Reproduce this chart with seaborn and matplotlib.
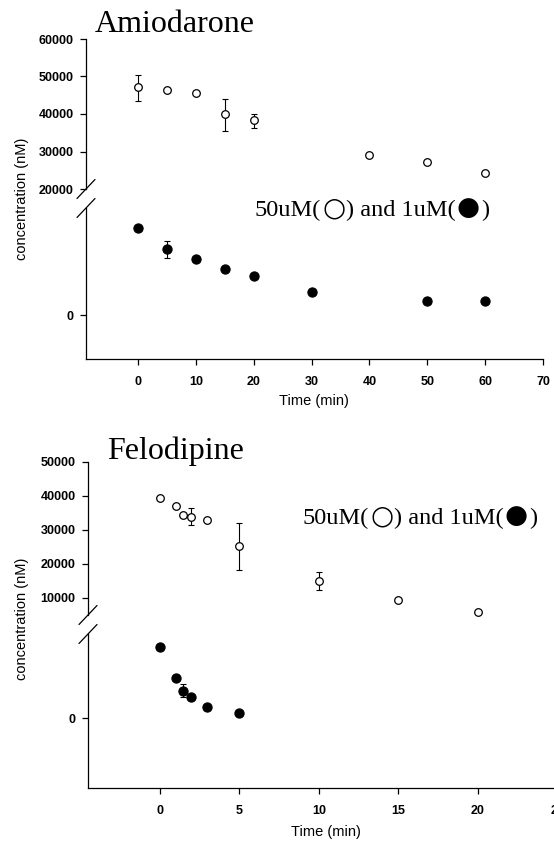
import matplotlib
matplotlib.use("Agg")
import matplotlib.pyplot as plt
from matplotlib.lines import Line2D
import numpy as np
import pandas as pd
import seaborn as sns

# ---------------- data ----------------
# Amiodarone
amio_t_high = [0, 5, 10, 15, 20, 40, 50, 60]
amio_c_high = [47070, 46500, 45470, 40130, 38270, 29200, 27330, 24400]
amio_err_t_high = [0, 15, 20]
amio_err_lo_high = [43600, 35600, 36400]
amio_err_hi_high = [50270, 44130, 39870]

amio_t_low = [0, 5, 10, 15, 20, 30, 50, 60]
amio_c_low = [813, 617, 523, 430, 364, 215, 134, 134]
amio_err_t_low = [5]
amio_err_lo_low = [533]
amio_err_hi_low = [692]

# Felodipine
felo_t_high = [0, 1, 1.5, 2, 3, 5, 10, 15, 20]
felo_c_high = [39400, 37060, 34410, 33820, 32940, 25300, 15000, 9410, 5880]
felo_err_t_high = [2, 5, 10]
felo_err_lo_high = [31470, 18240, 12350]
felo_err_hi_high = [36470, 32060, 17650]

felo_t_low = [0, 1, 1.5, 2, 3, 5]
felo_c_low = [845, 476, 321, 250, 131, 60]
felo_err_t_low = [1, 1.5]
felo_err_lo_low = [440, 250]
felo_err_hi_low = [512, 405]

amio_yticks_high = [20000, 30000, 40000, 50000, 60000]
felo_yticks_high = [10000, 20000, 30000, 40000, 50000]
amio_xticks = [0, 10, 20, 30, 40, 50, 60, 70]
felo_xticks = [0, 5, 10, 15, 20, 25]

titles = ["Amiodarone", "Felodipine"]
legend_parts = ["50uM(", "\u25CB", ") and 1uM(", "\u25CF", ")"]
xlabel = "Time (min)"
ylabel = "concentration (nM)"

# ---------------- style ----------------
sns.set_theme(style="ticks")
plt.rcParams["font.family"] = ["Liberation Sans", "DejaVu Sans"]
plt.rcParams["axes.linewidth"] = 0.9
plt.rcParams["xtick.major.width"] = 0.9
plt.rcParams["ytick.major.width"] = 0.9

W, H = 554, 844
fig = plt.figure(figsize=(W / 100, H / 100), dpi=100)
TICK_FS = 9


def px_rect(x0, x1, ytop, ybot):
    return [x0 / W, 1 - ybot / H, (x1 - x0) / W, (ybot - ytop) / H]


def draw_points(ax, t, c, et, elo, ehi, filled):
    df = pd.DataFrame({"t": t, "c": c})
    if filled:
        sns.scatterplot(data=df, x="t", y="c", ax=ax, marker="o", s=44,
                        color="black", edgecolor="black", linewidth=0.8,
                        zorder=3, clip_on=False)
    else:
        sns.scatterplot(data=df, x="t", y="c", ax=ax, marker="o", s=30,
                        facecolor="white", edgecolor="black", linewidth=0.9,
                        zorder=3, clip_on=False)
    if et:
        cmap = dict(zip(t, c))
        yc = np.array([cmap[v] for v in et])
        lo = yc - np.array(elo)
        hi = np.array(ehi) - yc
        ax.errorbar(et, yc, yerr=[lo, hi], fmt="none", ecolor="black",
                    elinewidth=0.8, capsize=2.5, capthick=0.8, zorder=2)


def style_upper(ax, xlim, ylim, yticks):
    ax.set_xlim(*xlim)
    ax.set_ylim(*ylim)
    ax.set_yticks(yticks)
    ax.set_yticklabels([str(v) for v in yticks])
    ax.set_xticks([])
    for s in ["top", "right", "bottom"]:
        ax.spines[s].set_visible(False)
    ax.spines["left"].set_color("black")
    ax.tick_params(axis="y", direction="out", length=4, width=0.9, pad=5,
                   colors="black", labelsize=TICK_FS)
    for lab in ax.get_yticklabels():
        lab.set_fontweight("bold")
    ax.set_xlabel("")
    ax.set_ylabel("")
    ax.patch.set_alpha(0)


def style_lower(ax, xlim, ylim, xticks):
    ax.set_xlim(*xlim)
    ax.set_ylim(*ylim)
    ax.set_yticks([0])
    ax.set_yticklabels(["0"])
    ax.set_xticks(xticks)
    ax.set_xticklabels([str(v) for v in xticks])
    for s in ["top", "right"]:
        ax.spines[s].set_visible(False)
    ax.spines["left"].set_color("black")
    ax.spines["bottom"].set_color("black")
    ax.tick_params(axis="both", direction="out", length=4, width=0.9,
                   colors="black", labelsize=TICK_FS)
    ax.tick_params(axis="y", pad=5)
    ax.tick_params(axis="x", pad=8)
    for lab in ax.get_yticklabels() + ax.get_xticklabels():
        lab.set_fontweight("bold")
    ax.set_xlabel("")
    ax.set_ylabel("")
    ax.patch.set_alpha(0)


def break_mark(ax, corner):
    pos = ax.get_position()
    x = pos.x0 * W
    y = (pos.y0 if corner == "bottom" else pos.y1) * H
    xs = [(x - 9) / W, (x + 9) / W]
    ys = [(y - 9.5) / H, (y + 9.5) / H]
    fig.add_artist(Line2D(xs, ys, color="black", lw=0.9,
                          transform=fig.transFigure))


# ---------- Amiodarone ----------
ax1u = fig.add_axes(px_rect(86, 543, 39, 189))
ax1l = fig.add_axes(px_rect(86, 543, 208, 359))
draw_points(ax1u, amio_t_high, amio_c_high, amio_err_t_high,
            amio_err_lo_high, amio_err_hi_high, filled=False)
draw_points(ax1l, amio_t_low, amio_c_low, amio_err_t_low,
            amio_err_lo_low, amio_err_hi_low, filled=True)
style_upper(ax1u, (-9, 70), (20000, 60000), amio_yticks_high)
style_lower(ax1l, (-9, 70), (-411, 1000), amio_xticks)
break_mark(ax1u, "bottom")
break_mark(ax1l, "top")

# ---------- Felodipine ----------
ax2u = fig.add_axes(px_rect(88, 557.5, 462, 615))
ax2l = fig.add_axes(px_rect(88, 557.5, 634, 788))
draw_points(ax2u, felo_t_high, felo_c_high, felo_err_t_high,
            felo_err_lo_high, felo_err_hi_high, filled=False)
draw_points(ax2l, felo_t_low, felo_c_low, felo_err_t_low,
            felo_err_lo_low, felo_err_hi_low, filled=True)
style_upper(ax2u, (-4.5, 25), (5000, 50000), felo_yticks_high)
style_lower(ax2l, (-4.5, 25), (-833, 1000), felo_xticks)
break_mark(ax2u, "bottom")
break_mark(ax2l, "top")

# ---------- texts ----------
serif = ["Liberation Serif", "DejaVu Serif", "DejaVu Sans"]
fig.text(95 / W, 1 - 32 / H, titles[0], family=serif, fontsize=23,
         ha="left", va="baseline", color="black")
fig.text(107 / W, 1 - 459 / H, titles[1], family=serif, fontsize=23,
         ha="left", va="baseline", color="black")

renderer = fig.canvas.get_renderer()


def rich_text(x_px, base_px):
    x = x_px
    for part in legend_parts:
        is_sym = part in ("\u25CB", "\u25CF")
        if is_sym:
            kw = dict(family=["DejaVu Sans"], fontsize=19)
            x += 0.5
        else:
            kw = dict(family=serif, fontsize=17.5)
        t = fig.text(x / W, 1 - (base_px + (-0.5 if is_sym else 0)) / H, part,
                     ha="left", va="baseline", color="black", **kw)
        bb = t.get_window_extent(renderer)
        x = bb.x1 + (1.0 if is_sym else 0.5)


rich_text(255, 216)
rich_text(303, 524)

fig.text(314 / W, 1 - 401 / H, xlabel, fontsize=10.5, ha="center",
         va="center", color="black")
fig.text(326 / W, 1 - 832 / H, xlabel, fontsize=10.5, ha="center",
         va="center", color="black")
fig.text(22 / W, 1 - 199 / H, ylabel, fontsize=10.5, rotation=90,
         ha="center", va="center", color="black")
fig.text(22 / W, 1 - 619 / H, ylabel, fontsize=10.5, rotation=90,
         ha="center", va="center", color="black")

fig.savefig("out.png", dpi=100, facecolor="white")
